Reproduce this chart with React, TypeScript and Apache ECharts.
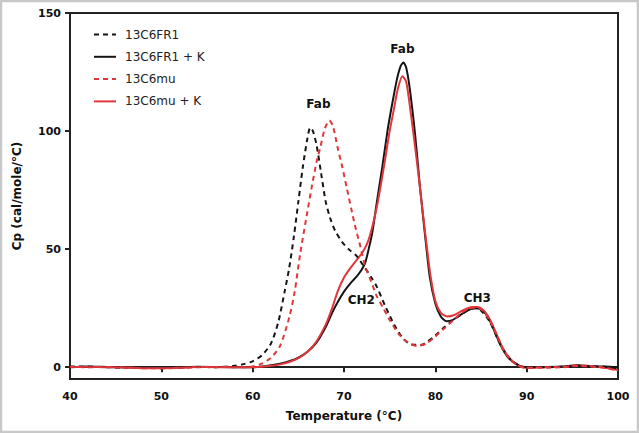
import React, { useEffect, useRef } from "react";
import * as echarts from "echarts";

const seriesNames = ["13C6FR1", "13C6FR1 + K", "13C6mu", "13C6mu + K"];

const fr1: [number, number][] = [
  [40, 0.3], [42, 0.2], [44, 0], [46, -0.2], [48, -0.3], [50, -0.4], [52, -0.2], [54, 0.1], [56, 0], [57, 0.2],
  [58, 0.6], [59, 1.3], [60, 2.5], [61, 5], [62, 10], [62.8, 19], [63.5, 32], [64, 42], [64.5, 55], [65, 70],
  [65.5, 85], [66, 97], [66.3, 101.5], [66.6, 100], [67, 94], [67.5, 82], [68, 70], [68.5, 63], [69, 58],
  [69.8, 53], [70.5, 50], [71.4, 47], [72.3, 42], [73, 38], [73.6, 34], [74.5, 26], [75.5, 18], [76.5, 12],
  [77.5, 9.5], [78.5, 9.5], [79.2, 11], [80, 13.5], [81, 17], [81.8, 19.5], [82.5, 21.5], [83.5, 24],
  [84.3, 25], [85, 24], [86, 19], [86.7, 13], [87.4, 7.5], [88.3, 3], [89.3, 0.5], [90, 0], [92, 0],
  [94, 0.2], [95.5, 0.6], [97, 0.4], [98.5, 0.2], [100, -0.5],
];

const fr1K: [number, number][] = [
  [40, 0], [42, 0.3], [44, 0.1], [46, -0.1], [48, -0.3], [50, -0.3], [52, -0.1], [54, 0.2], [56, 0.1], [58, 0],
  [60, 0], [61, 0.3], [62, 0.8], [63, 1.5], [64, 2.5], [65, 4], [66, 6.5], [67, 10.5], [68, 17], [68.7, 23],
  [69.3, 27.5], [70, 32], [70.7, 35.5], [71.3, 38], [71.8, 40.5], [72.3, 44], [72.7, 50], [73.1, 57],
  [73.6, 70], [74.2, 85], [74.8, 101], [75.3, 112], [75.8, 122], [76.2, 127.5], [76.5, 129], [76.8, 127],
  [77.2, 118], [77.8, 98], [78.3, 77], [78.9, 55], [79.4, 38], [80, 27], [80.6, 21.5], [81.2, 19.5],
  [81.8, 19.8], [82.5, 21.5], [83.5, 24], [84.3, 25], [85, 24.5], [85.8, 21], [86.5, 15], [87.2, 9],
  [88, 4], [89, 1], [90, 0], [92, 0.1], [94, 0.3], [95.5, 0.8], [97, 0.4], [98.5, 0.3], [100, 0],
];

const mu: [number, number][] = [
  [40, 0.2], [42, 0], [44, 0.1], [46, -0.3], [48, -0.4], [50, -0.5], [52, -0.3], [54, 0], [56, 0.1], [58, 0],
  [59, 0], [60, 0.3], [61, 1.5], [62, 4], [63, 9], [64, 21], [64.6, 32], [65.2, 48], [66, 66], [66.5, 77],
  [67, 87], [67.4, 93], [67.9, 101], [68.4, 104.5], [68.8, 102], [69.3, 93], [69.8, 85], [70.3, 76],
  [70.8, 67], [71.2, 60], [71.8, 51], [72.3, 43], [73, 36], [73.6, 30], [74.3, 25], [75, 20], [76, 14],
  [77, 10.5], [78, 9], [79, 10], [80, 13], [81, 16.5], [82, 20], [82.7, 22.5], [83.5, 24.5], [84.4, 25.3],
  [85.2, 24], [86, 19.5], [86.8, 13], [87.5, 7], [88.4, 2.5], [89.3, 0.3], [90, -0.3], [92, -0.2], [94, 0],
  [95.5, 0.5], [97, 0.3], [98.5, -0.3], [100, -1.5],
];

const muK: [number, number][] = [
  [40, 0.1], [42, 0.2], [44, 0], [46, 0], [48, -0.4], [50, -0.4], [52, -0.2], [54, 0.1], [56, 0], [58, 0],
  [60, 0], [61, 0.2], [62, 0.6], [63, 1.2], [64, 2.2], [65, 3.8], [66, 6.5], [67, 11], [68, 18], [68.7, 25],
  [69.3, 32], [70, 38], [70.7, 42], [71.4, 45.5], [72, 48.5], [72.6, 53], [73.1, 59.5], [73.6, 68], [74, 76.5],
  [74.5, 88], [75, 100], [75.5, 110], [75.9, 118], [76.4, 123.2], [76.8, 121], [77.2, 111], [77.7, 96],
  [78.2, 80], [78.7, 63], [79.1, 50], [79.5, 38], [80, 28], [80.6, 23], [81.3, 21.5], [82, 22], [83, 24],
  [84, 25.5], [84.6, 25.5], [85.3, 24], [86, 20], [86.7, 14], [87.4, 8], [88.2, 3.5], [89.2, 0.5], [90, -0.2],
  [92, 0], [94, 0.2], [95.5, 0.8], [97, 0.4], [98.5, -0.2], [100, -1.2],
];

const xTicks = [40, 50, 60, 70, 80, 90, 100];
const yTicks = [0, 50, 100, 150];

const annotations: { name: string; coord: [number, number] }[] = [
  { name: "Fab", coord: [67.2, 111.5] },
  { name: "Fab", coord: [76.4, 134.8] },
  { name: "CH2", coord: [71.9, 28.3] },
  { name: "CH3", coord: [84.6, 29.2] },
];

const BLACK = "#151515";
const RED = "#e1363b";
const AXIS = "#222222";
const FONT = "'DejaVu Sans', 'Open Sans', sans-serif";

export default function App() {
  const ref = useRef<HTMLDivElement>(null);
  useEffect(() => {
    if (!ref.current) return;
    const chart = echarts.init(ref.current, null, { renderer: "svg" });
    const mk = (name: string, data: [number, number][], color: string, dashed: boolean, extra: any = {}) => ({
      name,
      type: "line",
      data,
      smooth: 0.25,
      symbol: "none",
      lineStyle: { color, width: 2, type: dashed ? [5, 4] : "solid" },
      itemStyle: { color },
      z: dashed ? 3 : 2,
      ...extra,
    });
    chart.setOption({
      animation: false,
      backgroundColor: "#ffffff",
      graphic: [
        {
          type: "rect",
          shape: { x: 1, y: 1, width: 637, height: 431 },
          style: { fill: "none", stroke: "#c8c8c8", lineWidth: 2.5 },
          silent: true,
          z: 100,
        },
      ],
      grid: {
        left: 70,
        right: 21,
        top: 13,
        bottom: 54,
        show: true,
        borderColor: AXIS,
        borderWidth: 2,
        backgroundColor: "transparent",
      },
      legend: {
        orient: "vertical",
        left: 93,
        top: 28.5,
        padding: 0,
        itemWidth: 22,
        itemHeight: 14,
        itemGap: 10.3,
        itemStyle: { opacity: 0, borderWidth: 0 },
        data: seriesNames,
        textStyle: { fontFamily: FONT, fontSize: 12, color: "#222", padding: [0, 0, 0, 4] },
      },
      xAxis: {
        type: "value",
        min: 40,
        max: 100,
        interval: 10,
        name: "Temperature (°C)",
        nameLocation: "middle",
        nameGap: 31,
        nameTextStyle: { fontFamily: FONT, fontSize: 12, fontWeight: "bold", color: "#111" },
        axisLine: { show: true, lineStyle: { color: AXIS, width: 2 } },
        axisTick: { show: true, length: 5, lineStyle: { color: AXIS, width: 2 }, customValues: xTicks },
        axisLabel: {
          fontFamily: FONT,
          fontSize: 11,
          fontWeight: "bold",
          color: "#111",
          margin: 12,
          customValues: xTicks,
        },
        splitLine: { show: false },
      },
      yAxis: {
        type: "value",
        min: -5,
        max: 150,
        name: "Cp (cal/mole/°C)",
        nameLocation: "middle",
        nameGap: 47,
        nameTextStyle: { fontFamily: FONT, fontSize: 12, fontWeight: "bold", color: "#111" },
        axisLine: { show: true, lineStyle: { color: AXIS, width: 2 } },
        axisTick: { show: true, length: 5, lineStyle: { color: AXIS, width: 2 }, customValues: yTicks },
        axisLabel: {
          fontFamily: FONT,
          fontSize: 11,
          fontWeight: "bold",
          color: "#111",
          margin: 9,
          customValues: yTicks,
        },
        splitLine: { show: false },
      },
      series: [
        mk(seriesNames[0], fr1, BLACK, true, {
          markPoint: {
            symbol: "circle",
            symbolSize: 1,
            itemStyle: { color: "transparent" },
            label: {
              show: true,
              position: "inside",
              formatter: (p: any) => p.name,
              fontFamily: FONT,
              fontSize: 12,
              fontWeight: "bold",
              color: "#111",
            },
            data: annotations.map((a) => ({ name: a.name, coord: a.coord })),
          },
        }),
        mk(seriesNames[1], fr1K, BLACK, false),
        mk(seriesNames[2], mu, RED, true),
        mk(seriesNames[3], muK, RED, false),
      ],
    });
    return () => chart.dispose();
  }, []);
  return (
    <div
      ref={ref}
      style={{ position: "fixed", left: 0, top: 0, width: 639, height: 433, background: "#fff" }}
    />
  );
}
